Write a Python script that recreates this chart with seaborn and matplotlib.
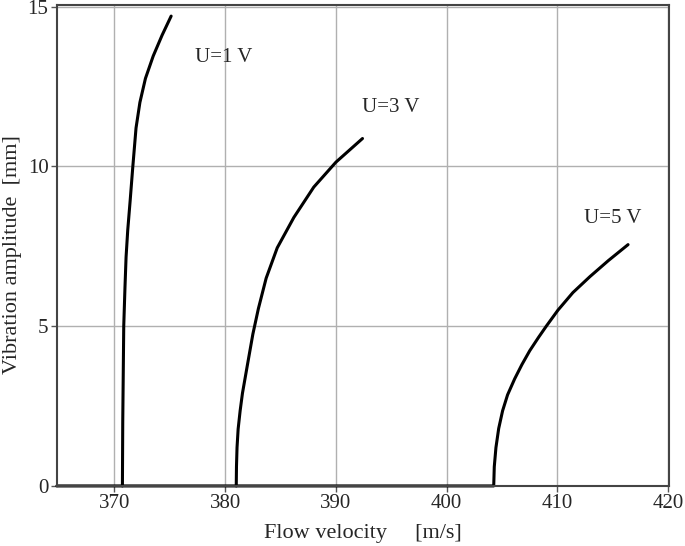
import pandas as pd
import seaborn as sns
import matplotlib.pyplot as plt

# curves (flow velocity m/s, amplitude mm)
u1_velocity = [364.8, 370.72, 370.75, 370.84, 370.95, 371.05, 371.2, 371.42, 371.65,
               371.95, 372.3, 372.8, 373.5, 374.3, 375.12]
u1_amplitude = [0, 0, 2.0, 5.0, 6.2, 7.16, 8.0, 8.93, 9.95, 11.2, 12.0, 12.75, 13.45,
                14.1, 14.7]

u3_velocity = [370.72, 381.0, 381.02, 381.07, 381.17, 381.35, 381.56, 382.02, 382.5,
               383.0, 383.7, 384.7, 386.2, 388.0, 390.0, 392.4]
u3_amplitude = [0, 0, 0.6, 1.2, 1.78, 2.35, 2.9, 3.81, 4.75, 5.55, 6.5, 7.45, 8.4,
                9.35, 10.13, 10.87]

u5_velocity = [381.0, 404.25, 404.3, 404.45, 404.7, 405.05, 405.5, 406.14, 406.8, 407.5,
               408.3, 409.0, 410.05, 411.4, 412.94, 414.6, 416.38]
u5_amplitude = [0, 0, 0.6, 1.2, 1.8, 2.35, 2.85, 3.35, 3.8, 4.23, 4.65, 5.0, 5.5, 6.05,
                6.55, 7.05, 7.55]

labels = ["U=1 V", "U=3 V", "U=5 V"]
label_x = [379.85, 394.95, 414.97]
label_y = [13.26, 11.69, 8.24]

x_ticks = [370, 380, 390, 400, 410, 420]
y_ticks = [0, 5, 10, 15]

frames = []
for name, xs, ys in zip(labels, [u1_velocity, u3_velocity, u5_velocity],
                        [u1_amplitude, u3_amplitude, u5_amplitude]):
    frames.append(pd.DataFrame({"velocity": xs, "amplitude": ys, "curve": name}))
data = pd.concat(frames, ignore_index=True)

sns.set_style("white")
plt.rcParams["font.family"] = ["Liberation Serif", "DejaVu Serif"]

fig = plt.figure(figsize=(6.85, 5.46), dpi=100)
ax = fig.add_axes([0.083, 0.11, 0.894, 0.881])

sns.lineplot(data=data, x="velocity", y="amplitude", units="curve", estimator=None,
             sort=False, color="black", linewidth=2.2, ax=ax, clip_on=False)

for text, tx, ty in zip(labels, label_x, label_y):
    ax.text(tx, ty, text, ha="center", va="baseline", fontsize=15)

ax.set_xlim(364.8, 420.1)
ax.set_ylim(0, 15.05)
ax.set_xticks(x_ticks)
ax.set_yticks(y_ticks)
ax.grid(True, color="#b0b0b0", linewidth=1)
ax.set_axisbelow(True)
ax.tick_params(axis="both", direction="out", length=4, width=1, color="#555555",
               labelsize=15, pad=2, left=True, bottom=True)
for side in ["left", "bottom", "top", "right"]:
    ax.spines[side].set_color("#444444")
    ax.spines[side].set_linewidth(1.5)

ax.set_xlabel("Flow velocity     [m/s]", fontsize=16, labelpad=8)
ax.set_ylabel("Vibration amplitude  [mm]", fontsize=16)
ax.yaxis.set_label_coords(-0.057, 0.48)

plt.savefig("out.png", dpi=100)
